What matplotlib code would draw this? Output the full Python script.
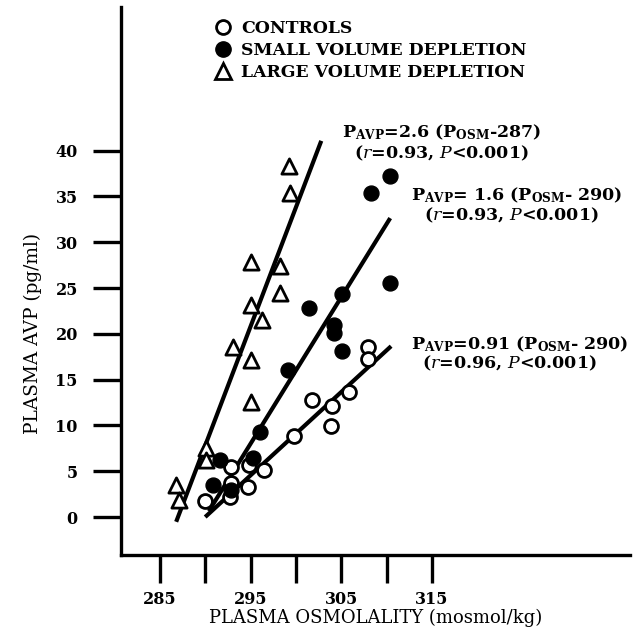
import matplotlib
matplotlib.use("Agg")
import matplotlib.pyplot as plt
from matplotlib.lines import Line2D

plt.rcParams['font.family'] = 'DejaVu Serif'
plt.rcParams['mathtext.fontset'] = 'dejavuserif'

# controls (open circles)
ctrl_x = [308.0, 308.0, 305.9, 301.8, 304.0, 303.9, 299.8, 292.9, 294.8, 296.5,
          292.9, 294.7, 292.7, 290.0]
ctrl_y = [18.6, 17.3, 13.7, 12.8, 12.1, 9.9, 8.8, 5.5, 5.7, 5.1,
          3.7, 3.3, 2.2, 1.7]

# small volume depletion (filled circles)
small_x = [310.4, 308.3, 310.4, 305.1, 301.4, 304.2, 304.2, 305.1, 299.1, 296.0,
           291.6, 295.3, 290.9, 292.9]
small_y = [37.2, 35.4, 25.5, 24.4, 22.8, 21.0, 20.1, 18.1, 16.1, 9.3,
           6.2, 6.4, 3.5, 3.0]

# large volume depletion (open triangles)
large_x = [299.2, 299.3, 295.1, 298.3, 298.2, 295.1, 296.3, 293.1, 295.1, 295.1,
           290.1, 290.1, 286.8, 287.1]
large_y = [38.3, 35.4, 27.9, 27.4, 24.5, 23.2, 21.5, 18.6, 17.2, 12.6,
           7.5, 6.2, 3.5, 1.9]

# regression lines: slope, intercept osmolality, x range
fits = [
    (2.6, 287, 286.8, 302.8),
    (1.6, 290, 290.4, 310.4),
    (0.91, 290, 290.0, 310.5),
]

xticks = [285, 290, 295, 300, 305, 310, 315]
xtick_labels = ['285', '', '295', '', '305', '', '315']
yticks = [0, 5, 10, 15, 20, 25, 30, 35, 40]

fig = plt.figure(figsize=(6.36, 6.30), dpi=100)
ax = fig.add_axes([0.190, 0.119, 0.80, 0.870])

for slope, x0, xa, xb in fits:
    ax.plot([xa, xb], [slope * (xa - x0), slope * (xb - x0)], color='black', lw=3.0,
            solid_capstyle='butt', zorder=2)

ax.scatter(ctrl_x, ctrl_y, s=100, marker='o', facecolor='white', edgecolor='black',
           linewidth=2.0, zorder=3)
ax.scatter(small_x, small_y, s=115, marker='o', facecolor='black', edgecolor='black',
           linewidth=1.0, zorder=3)
ax.scatter(large_x, large_y, s=120, marker='^', facecolor='white', edgecolor='black',
           linewidth=2.0, zorder=3)

ax.set_xlim(280.7, 336.8)
ax.set_ylim(-4.15, 55.7)
ax.set_xticks(xticks)
ax.set_xticklabels(xtick_labels)
ax.set_yticks(yticks)
for s in ['top', 'right']:
    ax.spines[s].set_visible(False)
for s in ['left', 'bottom']:
    ax.spines[s].set_linewidth(2.4)
ax.tick_params(axis='both', length=20, width=2.4, labelsize=11.5)
ax.tick_params(axis='x', pad=6)
ax.tick_params(axis='y', pad=11)
for lab in ax.get_xticklabels() + ax.get_yticklabels():
    lab.set_fontweight('bold')

fig.text(0.59, 0.019, 'PLASMA OSMOLALITY (mosmol/kg)', ha='center', va='center',
         fontsize=13)
fig.text(0.052, 0.47, 'PLASMA AVP (pg/ml)', ha='center', va='center',
         rotation=90, fontsize=13.3)

handles = [
    Line2D([], [], ls='', marker='o', ms=10, mfc='white', mec='black', mew=2.0),
    Line2D([], [], ls='', marker='o', ms=11, mfc='black', mec='black'),
    Line2D([], [], ls='', marker='^', ms=11, mfc='white', mec='black', mew=2.0),
]
labels = ['CONTROLS', 'SMALL VOLUME DEPLETION', 'LARGE VOLUME DEPLETION']
fig.legend(handles, labels, loc='upper left', bbox_to_anchor=(0.337, 0.968),
           frameon=False, borderpad=0, borderaxespad=0, handlelength=1.0,
           handletextpad=0.55, labelspacing=0.3,
           prop={'family': 'DejaVu Serif', 'weight': 'bold', 'size': 12.4})

ann = [
    (0.538, 0.790, r'$\mathbf{P_{AVP}}$=2.6 ($\mathbf{P_{OSM}}$-287)'),
    (0.556, 0.757, r'($\mathit{r}$=0.93, $\mathit{P}$<0.001)'),
    (0.646, 0.690, r'$\mathbf{P_{AVP}}$= 1.6 ($\mathbf{P_{OSM}}$- 290)'),
    (0.666, 0.658, r'($\mathit{r}$=0.93, $\mathit{P}$<0.001)'),
    (0.646, 0.453, r'$\mathbf{P_{AVP}}$=0.91 ($\mathbf{P_{OSM}}$- 290)'),
    (0.663, 0.424, r'($\mathit{r}$=0.96, $\mathit{P}$<0.001)'),
]
for x, y, t in ann:
    fig.text(x, y, t, ha='left', va='center', fontsize=12.5, fontweight='bold')

fig.savefig('out.png', dpi=100)
